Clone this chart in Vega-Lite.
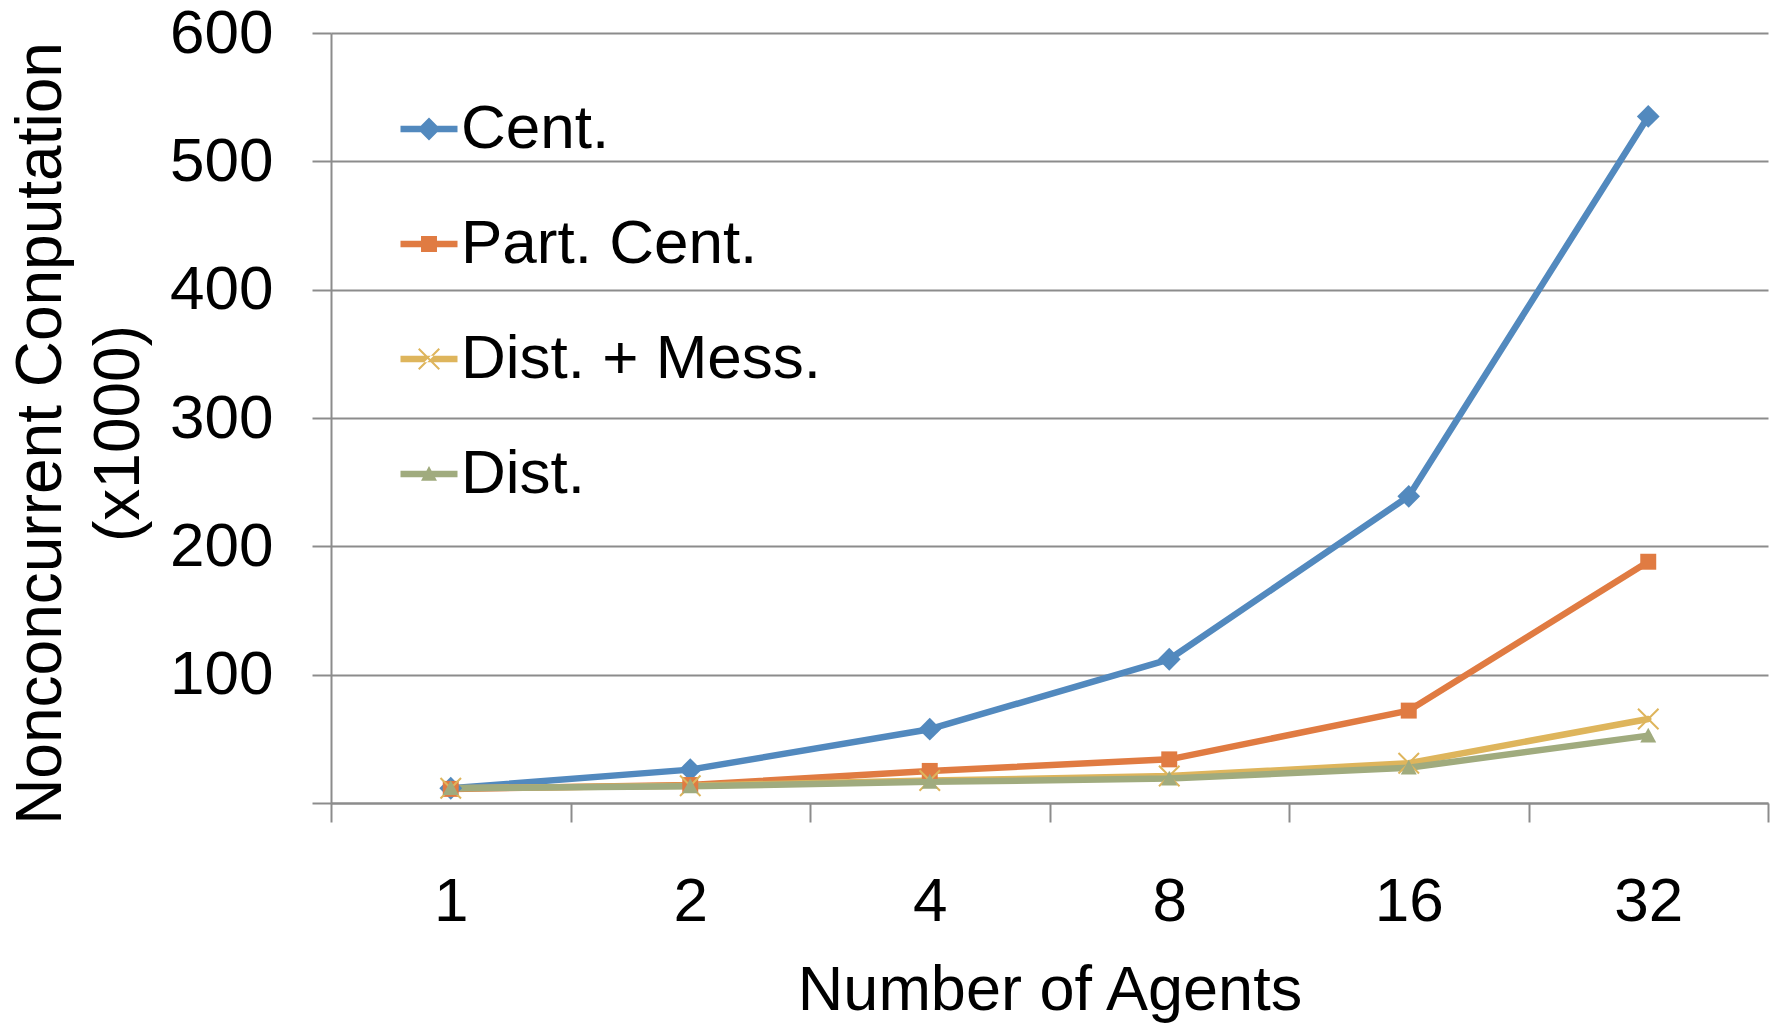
{
  "$schema": "https://vega.github.io/schema/vega-lite/v6.json",
  "width": 1437,
  "height": 770,
  "autosize": {"type": "none"},
  "padding": {"left": 331, "top": 33, "right": 7, "bottom": 221},
  "background": "white",
  "config": {
    "view": {"stroke": null},
    "font": "Liberation Sans",
    "axis": {"labelFont": "Liberation Sans", "titleFont": "Liberation Sans", "labelColor": "#000000", "titleColor": "#000000", "titleFontWeight": "normal"}
  },
  "data": {
    "values": [
      {"agents": 1, "series": "Cent.", "value": 11.5},
      {"agents": 2, "series": "Cent.", "value": 26},
      {"agents": 4, "series": "Cent.", "value": 57.5},
      {"agents": 8, "series": "Cent.", "value": 112},
      {"agents": 16, "series": "Cent.", "value": 239},
      {"agents": 32, "series": "Cent.", "value": 535},
      {"agents": 1, "series": "Part. Cent.", "value": 11},
      {"agents": 2, "series": "Part. Cent.", "value": 14},
      {"agents": 4, "series": "Part. Cent.", "value": 25},
      {"agents": 8, "series": "Part. Cent.", "value": 34},
      {"agents": 16, "series": "Part. Cent.", "value": 72},
      {"agents": 32, "series": "Part. Cent.", "value": 188},
      {"agents": 1, "series": "Dist. + Mess.", "value": 11.5},
      {"agents": 2, "series": "Dist. + Mess.", "value": 13.5},
      {"agents": 4, "series": "Dist. + Mess.", "value": 17.5},
      {"agents": 8, "series": "Dist. + Mess.", "value": 21},
      {"agents": 16, "series": "Dist. + Mess.", "value": 31},
      {"agents": 32, "series": "Dist. + Mess.", "value": 65.5},
      {"agents": 1, "series": "Dist.", "value": 11.5},
      {"agents": 2, "series": "Dist.", "value": 13},
      {"agents": 4, "series": "Dist.", "value": 16.5},
      {"agents": 8, "series": "Dist.", "value": 19},
      {"agents": 16, "series": "Dist.", "value": 27.5},
      {"agents": 32, "series": "Dist.", "value": 52.5}
    ]
  },
  "encoding": {
    "x": {
      "field": "agents",
      "type": "ordinal",
      "bandPosition": 0.5,
      "scale": {"type": "band", "paddingInner": 0, "paddingOuter": 0},
      "axis": {
        "title": "Number of Agents",
        "labelAngle": 0,
        "labelFontSize": 62,
        "labelBaseline": "middle",
        "labelPadding": 79,
        "tickBand": "extent",
        "tickSize": 19,
        "tickWidth": 2,
        "tickColor": "#8c8c8c",
        "domainColor": "#8c8c8c",
        "domainWidth": 2,
        "titleFontSize": 63,
        "titleBaseline": "middle",
        "titleY": 187,
        "grid": false
      }
    },
    "y": {
      "field": "value",
      "type": "quantitative",
      "scale": {"domain": [0, 600], "nice": false},
      "axis": {
        "title": ["Nonconcurrent Conputation", "(x1000)"],
        "values": [0, 100, 200, 300, 400, 500, 600],
        "labelExpr": "datum.value == 0 ? '' : datum.label",
        "labelFontSize": 62,
        "labelPadding": 39,
        "tickSize": 19,
        "tickWidth": 2,
        "tickColor": "#8c8c8c",
        "domainColor": "#8c8c8c",
        "domainWidth": 2,
        "grid": true,
        "gridColor": "#8c8c8c",
        "gridWidth": 2,
        "titleFontSize": 64,
        "titleAngle": 270,
        "titleBaseline": "middle",
        "titleAlign": "center",
        "titleLineHeight": 78,
        "titleX": -290,
        "titleY": 400
      }
    },
    "color": {
      "field": "series",
      "type": "nominal",
      "scale": {
        "domain": ["Cent.", "Part. Cent.", "Dist. + Mess.", "Dist."],
        "range": ["#5289be", "#e07b42", "#deb55c", "#a0ab7e"]
      },
      "legend": {
        "title": null,
        "orient": "none",
        "legendX": 67,
        "legendY": 65,
        "padding": 0,
        "labelFontSize": 62,
        "labelFont": "Liberation Sans",
        "labelColor": "#000000",
        "labelOffset": 1,
        "symbolSize": 3249,
        "symbolOpacity": 1,
        "rowPadding": 53,
        "labelLimit": 800,
        "encode": {
          "symbols": {
            "update": {
              "shape": {"signal": "datum.value === 'Cent.' ? 'M-1,-0.11H1V0.11H-1Z M0,-0.4L0.4,0L0,0.4L-0.4,0Z' : datum.value === 'Part. Cent.' ? 'M-1,-0.11H1V0.11H-1Z M-0.28,-0.28H0.28V0.28H-0.28Z' : datum.value === 'Dist. + Mess.' ? 'M-1,-0.11H1V0.11H-1Z M-0.335,-0.385L0.385,0.335L0.335,0.385L-0.385,-0.335Z M-0.335,0.385L0.385,-0.335L0.335,-0.385L-0.385,0.335Z' : 'M-1,-0.11H1V0.11H-1Z M0,-0.28L0.28,0.24L-0.28,0.24Z'"},
              "fill": {"signal": "scale('color', datum.value)"},
              "stroke": {"value": "transparent"},
              "strokeWidth": {"value": 0},
              "opacity": {"value": 1},
              "size": {"value": 3249}
            }
          }
        }
      }
    }
  },
  "layer": [
    {
      "mark": {"type": "line", "strokeWidth": 6.5, "strokeCap": "round", "strokeJoin": "round"}
    },
    {
      "transform": [{"filter": "datum.series === 'Cent.'"}],
      "mark": {"type": "point", "filled": true, "size": 3249, "opacity": 1, "strokeWidth": 0, "shape": "M0,-0.4L0.4,0L0,0.4L-0.4,0Z"}
    },
    {
      "transform": [{"filter": "datum.series === 'Part. Cent.'"}],
      "mark": {"type": "point", "filled": true, "size": 3249, "opacity": 1, "strokeWidth": 0, "shape": "M-0.28,-0.28H0.28V0.28H-0.28Z"}
    },
    {
      "transform": [{"filter": "datum.series === 'Dist. + Mess.'"}],
      "mark": {"type": "point", "filled": true, "size": 3249, "opacity": 1, "strokeWidth": 0, "shape": "M-0.335,-0.385L0.385,0.335L0.335,0.385L-0.385,-0.335Z M-0.335,0.385L0.385,-0.335L0.335,-0.385L-0.385,0.335Z"}
    },
    {
      "transform": [{"filter": "datum.series === 'Dist.'"}],
      "mark": {"type": "point", "filled": true, "size": 3249, "opacity": 1, "strokeWidth": 0, "shape": "M0,-0.28L0.28,0.24L-0.28,0.24Z"}
    }
  ]
}
